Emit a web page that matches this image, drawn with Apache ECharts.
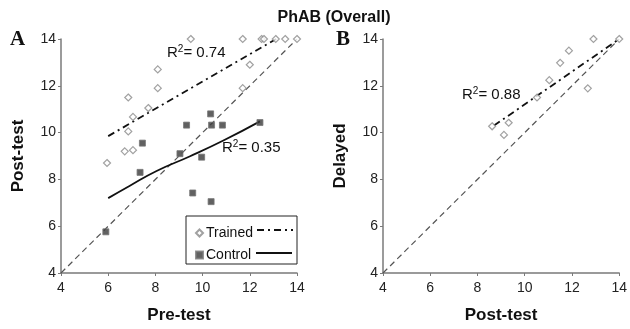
<!DOCTYPE html>
<html><head><meta charset="utf-8">
<script src="https://cdn.jsdelivr.net/npm/echarts@6/dist/echarts.min.js"></script>
<style>html,body{margin:0;padding:0;background:#fff}#c{width:630px;height:329px}</style>
</head><body><div id="c"></div>
<script>
// ---- data ----
const axisTicks = [4, 6, 8, 10, 12, 14];
const identityLine = [4, 14];

// Panel A
const trainedPre  = [9.5, 11.7, 12.5, 12.6, 13.1, 13.5, 14.0, 12.0, 11.7, 8.1, 8.1, 6.85, 7.7, 7.05, 6.85, 6.7, 7.05, 5.95];
const trainedPost = [14.0, 14.0, 14.0, 14.0, 14.0, 14.0, 14.0, 12.9, 11.9, 12.7, 11.9, 11.5, 11.05, 10.67, 10.05, 9.2, 9.25, 8.7];
const controlPre  = [7.45, 9.32, 10.34, 10.38, 10.84, 12.43, 9.04, 9.96, 7.35, 9.58, 10.36, 5.9];
const controlPost = [9.55, 10.32, 10.8, 10.32, 10.32, 10.43, 9.1, 8.95, 8.3, 7.42, 7.05, 5.76];
const trainedTrendX = [6.0, 13.2];
const trainedTrendY = [9.85, 14.05];
const controlTrendX = [6.0, 6.92, 8.05, 9.47, 10.88, 12.43];
const controlTrendY = [7.2, 7.73, 8.36, 8.99, 9.66, 10.48];

// Panel B
const bPost    = [8.62, 9.12, 9.32, 10.52, 11.04, 11.5, 11.87, 12.91, 12.67, 14.0];
const bDelayed = [10.27, 9.9, 10.42, 11.5, 12.24, 12.98, 13.5, 14.0, 11.89, 14.0];
const bTrendX = [8.7, 14.0];
const bTrendY = [10.3, 14.0];

const r2Values = ['0.74', '0.35', '0.88'];

const zip = (a, b) => a.map((v, i) => [v, b[i]]);

const FONT = 'Liberation Sans, Arial, sans-serif';
const axisColor = '#7a7a7a';
function xAx(gi, name) {
  return {
    gridIndex: gi, type: 'value', min: 4, max: 14, interval: 2,
    name: name, nameLocation: 'middle', nameGap: 34,
    nameTextStyle: {fontFamily: FONT, fontSize: 17, fontWeight: 'bold', color: '#111'},
    axisLine: {show: true, lineStyle: {color: axisColor, width: 1.5}},
    axisTick: {show: true, length: 3, lineStyle: {color: axisColor}},
    axisLabel: {fontFamily: FONT, fontSize: 14, color: '#222', margin: 8},
    splitLine: {show: false}
  };
}
function yAx(gi, name) {
  return {
    gridIndex: gi, type: 'value', min: 4, max: 14, interval: 2,
    name: name, nameLocation: 'middle', nameGap: 34, nameRotate: 90,
    nameTextStyle: {fontFamily: FONT, fontSize: 17, fontWeight: 'bold', color: '#111'},
    axisLine: {show: true, lineStyle: {color: axisColor, width: 1.5}},
    axisTick: {show: true, length: 3, lineStyle: {color: axisColor}},
    axisLabel: {fontFamily: FONT, fontSize: 14, color: '#222', margin: 5},
    splitLine: {show: false}
  };
}

const chart = echarts.init(document.getElementById('c'), null, {renderer: 'canvas'});
const diamondStyle = {color: '#ffffff', borderColor: '#8a8a8a', borderWidth: 1.2};
const squareStyle = {color: '#3a3a3a', borderColor: '#777', borderWidth: 1};
const r2Rich = {
  t: {fontFamily: FONT, fontSize: 15, fill: '#111', color: '#111'},
  s: {fontFamily: FONT, fontSize: 10, color: '#111', verticalAlign: 'top', padding: [0, 0, 8, 0]}
};
function r2Text(i, x, y) {
  return {type: 'text', left: x, top: y,
    style: {text: '{t|R}{s|2}{t|= ' + r2Values[i] + '}', rich: r2Rich, fill: '#111'}};
}

chart.setOption({
  animation: false,
  backgroundColor: '#fff',
  title: {text: 'PhAB (Overall)', left: 329, top: 5, textAlign: 'center',
    textStyle: {fontFamily: FONT, fontSize: 16, fontWeight: 'bold', color: '#111'}},
  grid: [
    {left: 61, right: 333, top: 39, bottom: 52},
    {left: 383, right: 10, top: 39, bottom: 52}
  ],
  xAxis: [xAx(0, 'Pre-test'), xAx(1, 'Post-test')],
  yAxis: [yAx(0, 'Post-test'), yAx(1, 'Delayed')],
  legend: {
    left: 190, top: 221, orient: 'vertical', itemGap: 8, itemWidth: 7, itemHeight: 7,
    textStyle: {fontFamily: FONT, fontSize: 14, color: '#111', padding: [0, 0, 0, -2]},
    data: [{name: 'Trained', icon: 'diamond'}, {name: 'Control', icon: 'rect'}]
  },
  series: [
    {name: 'identityA', type: 'line', xAxisIndex: 0, yAxisIndex: 0, symbol: 'none',
      data: zip(identityLine, identityLine), lineStyle: {color: '#555', width: 1.2, type: [6, 4]}, silent: true, z: 1},
    {name: 'identityB', type: 'line', xAxisIndex: 1, yAxisIndex: 1, symbol: 'none',
      data: zip(identityLine, identityLine), lineStyle: {color: '#555', width: 1.2, type: [6, 4]}, silent: true, z: 1},
    {name: 'trainedTrend', type: 'line', xAxisIndex: 0, yAxisIndex: 0, symbol: 'none',
      data: zip(trainedTrendX, trainedTrendY), lineStyle: {color: '#111', width: 1.8, type: [7, 4, 2, 4]}, z: 2},
    {name: 'controlTrend', type: 'line', xAxisIndex: 0, yAxisIndex: 0, symbol: 'none', smooth: true,
      data: zip(controlTrendX, controlTrendY), lineStyle: {color: '#111', width: 1.8}, z: 2},
    {name: 'bTrend', type: 'line', xAxisIndex: 1, yAxisIndex: 1, symbol: 'none',
      data: zip(bTrendX, bTrendY), lineStyle: {color: '#111', width: 1.8, type: [7, 4, 2, 4]}, z: 2},
    {name: 'Trained', type: 'scatter', xAxisIndex: 0, yAxisIndex: 0, symbol: 'diamond', symbolSize: 7,
      data: zip(trainedPre, trainedPost), itemStyle: diamondStyle, z: 3},
    {name: 'Control', type: 'scatter', xAxisIndex: 0, yAxisIndex: 0, symbol: 'rect', symbolSize: 6,
      data: zip(controlPre, controlPost), itemStyle: squareStyle, z: 3},
    {name: 'TrainedB', type: 'scatter', xAxisIndex: 1, yAxisIndex: 1, symbol: 'diamond', symbolSize: 7,
      data: zip(bPost, bDelayed), itemStyle: diamondStyle, z: 3}
  ],
  graphic: [
    {type: 'text', left: 10, top: 29, style: {text: 'A', font: 'bold 21px "Liberation Serif", "Times New Roman", serif', fill: '#111'}},
    {type: 'text', left: 336, top: 29, style: {text: 'B', font: 'bold 21px "Liberation Serif", "Times New Roman", serif', fill: '#111'}},
    r2Text(0, 167, 44),
    r2Text(1, 222, 139),
    r2Text(2, 462, 86),
    {type: 'rect', shape: {x: 186, y: 216, width: 111, height: 48}, style: {fill: 'none', stroke: '#222', lineWidth: 1}, z: 0},
    {type: 'line', shape: {x1: 257, y1: 230, x2: 293, y2: 230}, style: {stroke: '#111', lineWidth: 1.8, lineDash: [7, 4, 2, 4]}},
    {type: 'line', shape: {x1: 256, y1: 253, x2: 292, y2: 253}, style: {stroke: '#111', lineWidth: 1.8}}
  ]
});
</script></body></html>
